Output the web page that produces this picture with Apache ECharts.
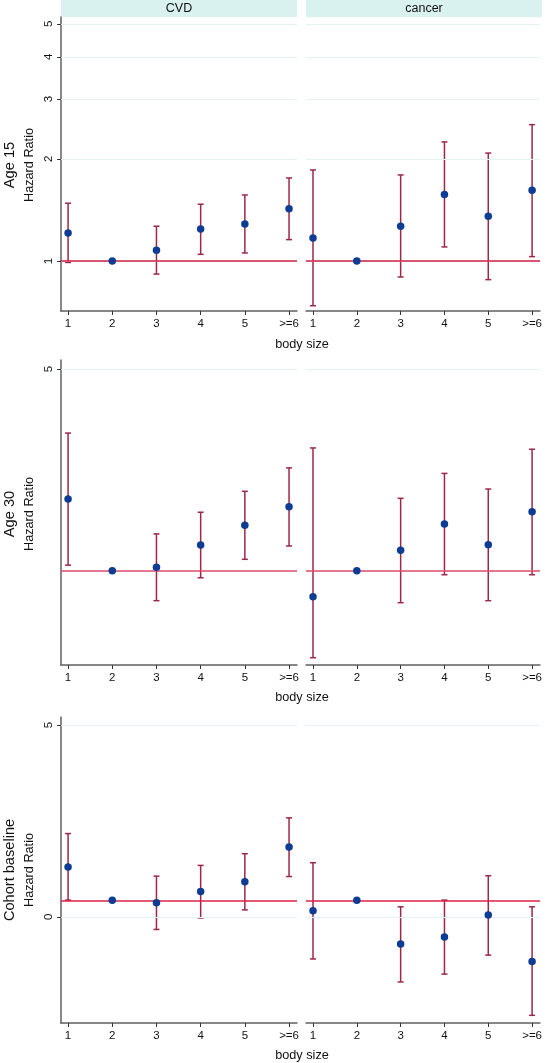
<!DOCTYPE html>
<html><head><meta charset="utf-8">
<script src="https://cdn.jsdelivr.net/npm/echarts@6/dist/echarts.min.js"></script>
<style>html,body{margin:0;padding:0;background:#fff}#c{width:545px;height:1063px}</style>
</head><body><div id="c"></div>
<script>
// ---------- data ----------
const categories = ['1', '2', '3', '4', '5', '>=6'];
const catPos = [1, 2, 3, 4, 5, 6];
const rowTitles = ['Age 15', 'Age 30', 'Cohort baseline'];
const colTitles = ['CVD', 'cancer'];
const xTitle = 'body size';
const yTitle = 'Hazard Ratio';

// Age 15 (log-scaled axis)
const age15CvdHR = [1.21, 1.00, 1.075, 1.243, 1.286, 1.426];
const age15CvdLo = [0.99, null, 0.915, 1.046, 1.056, 1.156];
const age15CvdHi = [1.48, null, 1.266, 1.47, 1.565, 1.757];
const age15CanHR = [1.169, 1.00, 1.266, 1.569, 1.355, 1.616];
const age15CanLo = [0.738, null, 0.897, 1.10, 0.881, 1.03];
const age15CanHi = [1.855, null, 1.793, 2.244, 2.08, 2.523];

// Age 30
const age30CvdHR = [2.42, 1.00, 1.07, 1.51, 1.90, 2.27];
const age30CvdLo = [1.11, null, 0.405, 0.86, 1.226, 1.49];
const age30CvdHi = [3.73, null, 1.73, 2.16, 2.575, 3.04];
const age30CanHR = [0.484, 1.00, 1.405, 1.927, 1.516, 2.17];
const age30CanLo = [-0.726, null, 0.365, 0.92, 0.405, 0.92];
const age30CanHi = [3.435, null, 2.436, 2.93, 2.62, 3.41];

// Cohort baseline
const baseCvdHR = [1.30, 0.428, 0.365, 0.66, 0.915, 1.82];
const baseCvdLo = [0.435, null, -0.33, -0.03, 0.18, 1.05];
const baseCvdHi = [2.17, null, 1.06, 1.34, 1.645, 2.58];
const baseCanHR = [0.157, 0.428, -0.71, -0.53, 0.044, -1.165];
const baseCanLo = [-1.10, null, -1.70, -1.495, -1.0, -2.57];
const baseCanHi = [1.41, null, 0.26, 0.435, 1.07, 0.26];

const refLines = [1, 1, 0.428];
const yTicks15 = [1, 2, 3, 4, 5];
const yTicks30 = [5];
const yTicksBase = [0, 5];

// ---------- layout / style ----------
const FONT = '"Liberation Sans", Arial, Helvetica, sans-serif';
const rowTop = [17, 360, 717];
const rowH = [294, 305, 306];
const colLeft = [61, 306];
const colW = 236;
const yRange = [[0.712, 5.24], [-0.871, 5.18], [-2.77, 5.21]];
const yType = ['log', 'value', 'value'];
const yTicks = [yTicks15, yTicks30, yTicksBase];
const panelData = [
  [[age15CvdHR, age15CvdLo, age15CvdHi], [age15CanHR, age15CanLo, age15CanHi]],
  [[age30CvdHR, age30CvdLo, age30CvdHi], [age30CanHR, age30CanLo, age30CanHi]],
  [[baseCvdHR, baseCvdLo, baseCvdHi], [baseCanHR, baseCanLo, baseCanHi]]
];
const errColor = '#9c2749';
const refColors = ['#d21f45', '#dc4a68', '#dd2243'];
const dotColor = '#0c3c94';
const gridColor = '#e2f3f1';
const axisColor = '#606060';

const grids = [], xAxes = [], yAxes = [], series = [], graphics = [];

function renderErr(params, api) {
  const x = api.value(0), lo = api.value(1), hi = api.value(2);
  const p1 = api.coord([x, lo]), p2 = api.coord([x, hi]);
  const w = 3;
  const style = { stroke: errColor, lineWidth: 1.5 };
  return {
    type: 'group', children: [
      { type: 'line', shape: { x1: p1[0], y1: p1[1], x2: p2[0], y2: p2[1] }, style },
      { type: 'line', shape: { x1: p1[0] - w, y1: p1[1], x2: p1[0] + w, y2: p1[1] }, style },
      { type: 'line', shape: { x1: p2[0] - w, y1: p2[1], x2: p2[0] + w, y2: p2[1] }, style }
    ]
  };
}

let idx = 0;
for (let r = 0; r < 3; r++) {
  for (let c = 0; c < 2; c++) {
    grids.push({ left: colLeft[c], top: rowTop[r], width: colW, height: rowH[r], containLabel: false });
    xAxes.push({
      gridIndex: idx, type: 'value', min: 0.84, max: 6.18,
      axisLine: { show: true, onZero: false, lineStyle: { color: axisColor, width: 1.5 } },
      axisTick: { show: true, length: 4, customValues: catPos, lineStyle: { color: '#333', width: 1 } },
      axisLabel: { show: true, customValues: catPos, margin: 7, color: '#111', fontSize: 11.5, fontFamily: FONT,
        formatter: v => categories[Math.round(v) - 1] },
      splitLine: { show: false }
    });
    const ya = {
      gridIndex: idx, type: yType[r], min: yRange[r][0], max: yRange[r][1],
      splitLine: { show: false }
    };
    if (yType[r] === 'log') ya.logBase = 10;
    if (c === 0) {
      ya.axisLine = { show: true, lineStyle: { color: axisColor, width: 1.5 } };
      ya.axisTick = { show: true, length: 4, customValues: yTicks[r], lineStyle: { color: '#333', width: 1 } };
      ya.axisLabel = { show: true, customValues: yTicks[r], rotate: 90, margin: 6, color: '#111', fontSize: 11.5, fontFamily: FONT };
    } else {
      ya.axisLine = { show: false };
      ya.axisTick = { show: false };
      ya.axisLabel = { show: false };
    }
    yAxes.push(ya);

    const [hr, lo, hi] = panelData[r][c];
    // gridlines
    series.push({
      type: 'line', xAxisIndex: idx, yAxisIndex: idx, data: [], silent: true, z: 1,
      markLine: {
        silent: true, symbol: 'none', label: { show: false }, animation: false,
        data: yTicks[r].map(v => ({ yAxis: v, lineStyle: { color: gridColor, width: 1, type: 'solid' } }))
      }
    });
    const errData = [];
    catPos.forEach((x, i) => { if (lo[i] !== null && hi[i] !== null) errData.push([x, lo[i], hi[i]]); });
    series.push({
      type: 'custom', xAxisIndex: idx, yAxisIndex: idx, renderItem: renderErr, data: errData,
      encode: { x: 0, y: [1, 2] }, z: 3, silent: true, animation: false
    });
    // reference line
    series.push({
      type: 'line', xAxisIndex: idx, yAxisIndex: idx, data: [], silent: true, z: 4,
      markLine: {
        silent: true, symbol: 'none', label: { show: false }, animation: false,
        data: [{ yAxis: refLines[r], lineStyle: { color: refColors[r], width: 1.5, type: 'solid' } }]
      }
    });
    series.push({
      type: 'scatter', xAxisIndex: idx, yAxisIndex: idx, symbol: 'circle', symbolSize: 7.5,
      itemStyle: { color: dotColor, opacity: 1 }, z: 5, silent: true, animation: false,
      data: catPos.map((x, i) => [x, hr[i]])
    });
    idx++;
  }
}

// column header strips
for (let c = 0; c < 2; c++) {
  graphics.push({ type: 'rect', shape: { x: colLeft[c], y: 0, width: colW, height: 17 }, style: { fill: '#d9f1ef' }, silent: true });
  graphics.push({ type: 'text', x: colLeft[c] + colW / 2, y: 8.5,
    style: { text: colTitles[c], fill: '#111', font: '12.5px ' + FONT, align: 'center', verticalAlign: 'middle' }, silent: true });
}
// row titles and x titles
const rowMid = [165, 514, 870];
const xTitleY = [344, 697, 1055];
for (let r = 0; r < 3; r++) {
  graphics.push({ type: 'text', x: 10, y: rowMid[r], rotation: Math.PI / 2,
    style: { text: rowTitles[r], fill: '#111', font: '14.6px ' + FONT, align: 'center', verticalAlign: 'middle' }, silent: true });
  graphics.push({ type: 'text', x: 29, y: rowMid[r], rotation: Math.PI / 2,
    style: { text: yTitle, fill: '#111', font: '12.7px ' + FONT, align: 'center', verticalAlign: 'middle' }, silent: true });
  graphics.push({ type: 'text', x: 302, y: xTitleY[r],
    style: { text: xTitle, fill: '#111', font: '12.7px ' + FONT, align: 'center', verticalAlign: 'middle' }, silent: true });
}

const chart = echarts.init(document.getElementById('c'), null, { renderer: 'canvas' });
chart.setOption({
  animation: false,
  backgroundColor: '#ffffff',
  grid: grids, xAxis: xAxes, yAxis: yAxes, series: series, graphic: graphics
});
</script>
</body></html>
